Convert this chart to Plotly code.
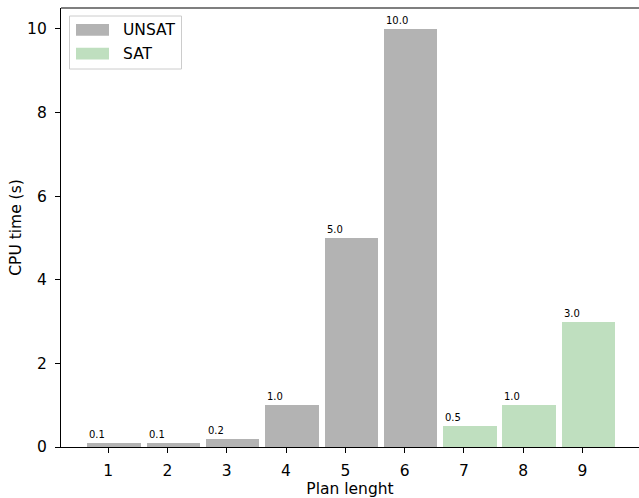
import plotly.graph_objects as go

plan_length = [1, 2, 3, 4, 5, 6, 7, 8, 9]
cpu_time = [0.1, 0.1, 0.2, 1.0, 5.0, 10.0, 0.5, 1.0, 3.0]
result = ["UNSAT", "UNSAT", "UNSAT", "UNSAT", "UNSAT", "UNSAT", "SAT", "SAT", "SAT"]
y_ticks = [0, 2, 4, 6, 8, 10]

GRAY = "#b3b3b3"
GREEN = "#bfdfbf"
FONT = "DejaVu Sans"
FS = 15.5

W, H = 639, 498
ML, MR, MT, MB = 61, 0, 8, 51
PW, PH = W - ML - MR, H - MT - MB

fig = go.Figure()
for name, color in [("UNSAT", GRAY), ("SAT", GREEN)]:
    xs = [x for x, r in zip(plan_length, result) if r == name]
    ys = [y for y, r in zip(cpu_time, result) if r == name]
    fig.add_trace(go.Bar(x=xs, y=ys, name=name, marker=dict(color=color, line=dict(width=0)),
                         width=0.9, offset=-0.35, showlegend=False, hoverinfo="skip"))
    for x, y in zip(xs, ys):
        fig.add_annotation(x=x - 0.35, y=y, xref="x", yref="y", text=f"{y:.1f}",
                           showarrow=False, xanchor="left", yanchor="bottom", yshift=1,
                           font=dict(family=FONT, size=10, color="#000000"))

# top spine
fig.add_shape(type="line", xref="paper", yref="paper", x0=0, x1=1, y0=1, y1=1,
              line=dict(color="black", width=1.2))

# manual legend (matplotlib style); positions given in screen pixels
def px(xp):
    return (xp - ML) / PW
def py(yp):
    return 1 - (yp - MT) / PH

fig.add_shape(type="rect", xref="paper", yref="paper", x0=px(69.5), x1=px(181.5), y0=py(69), y1=py(16),
              line=dict(color="#cccccc", width=1), fillcolor="rgba(255,255,255,0.8)")
for i, (name, color) in enumerate([("UNSAT", GRAY), ("SAT", GREEN)]):
    top = 24 + i * 23.7
    fig.add_shape(type="rect", xref="paper", yref="paper", x0=px(76), x1=px(109),
                  y0=py(top + 11.7), y1=py(top), line=dict(width=0), fillcolor=color)
    fig.add_annotation(xref="paper", yref="paper", x=px(121), y=py(top + 6), text=name,
                       showarrow=False, xanchor="left", yanchor="middle",
                       font=dict(family=FONT, size=FS, color="black"))

fig.update_layout(
    width=W, height=H,
    margin=dict(l=ML, r=MR, t=MT, b=MB, pad=0),
    plot_bgcolor="white", paper_bgcolor="white",
    font=dict(family=FONT, size=FS, color="black"),
    bargap=0,
    hovermode=False,
)
fig.update_xaxes(range=[0.205, 0.205 + PW / 59.3], tickvals=plan_length, ticktext=[str(v) for v in plan_length],
                 showgrid=False, zeroline=False, showline=True, linecolor="black", linewidth=1.2,
                 ticks="outside", ticklen=5, tickwidth=1.2, tickcolor="black", ticklabelstandoff=4,
                 title=dict(text="Plan lenght", standoff=1, font=dict(family=FONT, size=FS)),
                 tickfont=dict(family=FONT, size=FS))
fig.update_yaxes(range=[0, 10.5], tickvals=y_ticks, ticktext=[str(v) for v in y_ticks],
                 showgrid=False, zeroline=False, showline=True, linecolor="black", linewidth=1.2,
                 ticks="outside", ticklen=5, tickwidth=1.2, tickcolor="black", ticklabelstandoff=5,
                 title=dict(text="CPU time (s)", standoff=1, font=dict(family=FONT, size=FS)),
                 tickfont=dict(family=FONT, size=FS))

fig.write_html("out.html", config={"displayModeBar": False},
               post_script="document.body.style.margin='0';document.body.style.overflow='hidden';")
